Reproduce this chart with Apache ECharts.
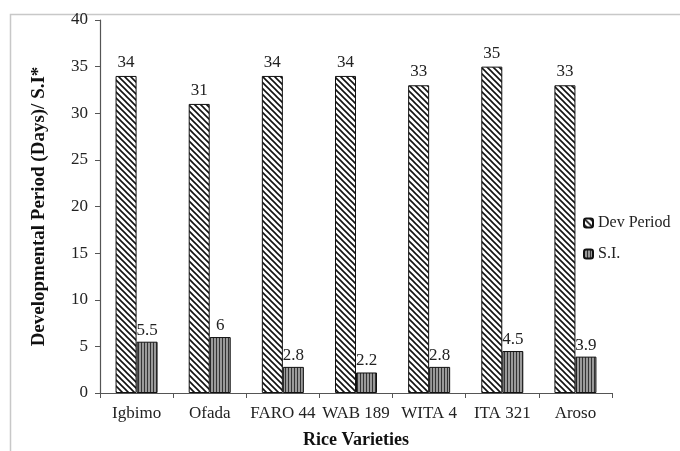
<!DOCTYPE html>
<html>
<head>
<meta charset="utf-8">
<script src="https://cdn.jsdelivr.net/npm/echarts@6/dist/echarts.min.js"></script>
<style>
  html, body { margin: 0; padding: 0; background: #fff; }
  #main { width: 680px; height: 451px; }
</style>
</head>
<body>
<div id="main"></div>
<script>
// rice varieties vs developmental period and S.I.
var varieties = ['Igbimo', 'Ofada', 'FARO 44', 'WAB 189', 'WITA 4', 'ITA 321', 'Aroso'];
var devPeriod = [34, 31, 34, 34, 33, 35, 33];
var susIndex = [5.5, 6, 2.8, 2.2, 2.8, 4.5, 3.9];
var yTicks = [0, 5, 10, 15, 20, 25, 30, 35, 40];

function hatch() {
    var c = document.createElement('canvas');
    c.width = 6; c.height = 6;
    var g = c.getContext('2d');
    g.fillStyle = '#fff';
    g.fillRect(0, 0, 6, 6);
    g.strokeStyle = '#111';
    g.lineWidth = 1.6;
    g.beginPath();
    g.moveTo(-1, -1); g.lineTo(7, 7);
    g.moveTo(-4, 2); g.lineTo(4, 10);
    g.moveTo(2, -4); g.lineTo(10, 4);
    g.stroke();
    return c;
}
function vstripe() {
    var c = document.createElement('canvas');
    c.width = 3; c.height = 3;
    var g = c.getContext('2d');
    g.fillStyle = '#9a9a9a';
    g.fillRect(0, 0, 3, 3);
    g.fillStyle = '#333';
    g.fillRect(0, 0, 1, 3);
    return c;
}

var font = 'Liberation Serif';
var chart = echarts.init(document.getElementById('main'));
chart.setOption({
    animation: false,
    textStyle: { fontFamily: font },
    graphic: [{
        type: 'rect', silent: true,
        shape: { x: 10.5, y: 14.5, width: 700, height: 500 },
        style: { fill: 'none', stroke: '#c8c8c8', lineWidth: 1.5 }
    }],
    grid: { left: 100, right: 68, top: 20, bottom: 58, outerBoundsMode: 'none' },
    legend: {
        orient: 'vertical', left: 578, top: 210, itemWidth: 9, itemHeight: 9, itemGap: 15,
        textStyle: { fontFamily: font, fontSize: 16, color: '#222' },
        data: ['Dev Period', 'S.I.']
    },
    xAxis: {
        type: 'category', data: varieties,
        name: 'Rice Varieties', nameLocation: 'middle', nameGap: 38,
        nameTextStyle: { fontFamily: font, fontSize: 18, fontWeight: 'bold', color: '#111' },
        axisLine: { lineStyle: { color: '#555', width: 1.2 } },
        axisTick: { show: true, length: 5, lineStyle: { color: '#555' } },
        axisLabel: { fontFamily: font, fontSize: 17, color: '#222', margin: 12, interval: 0 }
    },
    yAxis: {
        type: 'value', min: 0, max: 40, interval: 5,
        name: 'Developmental Period (Days)/ S.I*', nameLocation: 'middle', nameGap: 51,
        nameTextStyle: { fontFamily: font, fontSize: 19, fontWeight: 'bold', color: '#111' },
        axisLine: { show: true, lineStyle: { color: '#555', width: 1.2 } },
        axisTick: { show: true, length: 5, lineStyle: { color: '#555' } },
        axisLabel: { fontFamily: font, fontSize: 17, color: '#222', margin: 12,
            formatter: function (v) { return yTicks.indexOf(v) >= 0 ? String(v) : ''; } },
        splitLine: { show: false }
    },
    series: [{
        name: 'Dev Period', type: 'bar', data: devPeriod,
        barWidth: 21, barGap: '0%',
        itemStyle: { color: { image: hatch(), repeat: 'repeat' }, borderColor: '#111', borderWidth: 1 },
        label: { show: true, position: 'top', distance: 5, fontFamily: font, fontSize: 17, color: '#222' }
    }, {
        name: 'S.I.', type: 'bar', data: susIndex,
        barWidth: 21,
        itemStyle: { color: { image: vstripe(), repeat: 'repeat' }, borderColor: '#111', borderWidth: 1 },
        label: { show: true, position: 'top', distance: 3, fontFamily: font, fontSize: 17, color: '#222' }
    }]
});
</script>
</body>
</html>
